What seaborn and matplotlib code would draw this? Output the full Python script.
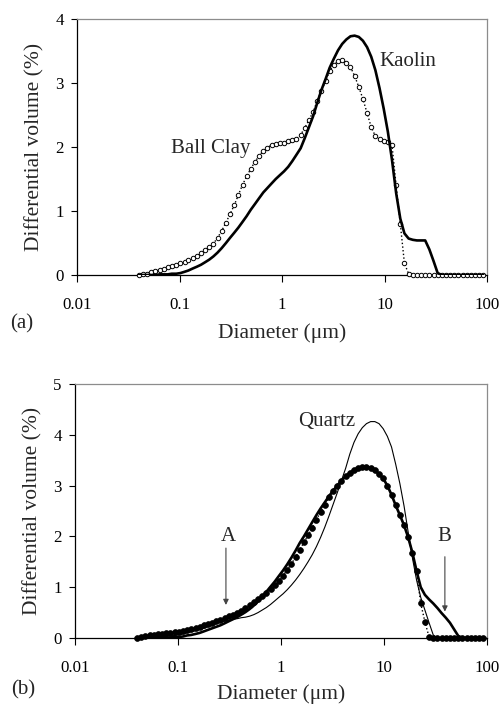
import numpy as np
import pandas as pd
import matplotlib
matplotlib.use("Agg")
import matplotlib.pyplot as plt
import matplotlib.ticker as ticker
import seaborn as sns

# channel diameters (um), log spaced like the analyser bins
diameter_um = [0.040, 0.044, 0.048, 0.053, 0.058, 0.064, 0.070, 0.077, 0.084, 0.093,
               0.102, 0.112, 0.122, 0.134, 0.148, 0.162, 0.178, 0.195, 0.214, 0.235,
               0.258, 0.284, 0.311, 0.342, 0.375, 0.412, 0.452, 0.496, 0.545, 0.598,
               0.657, 0.721, 0.791, 0.869, 0.953, 1.047, 1.149, 1.261, 1.385, 1.520,
               1.669, 1.832, 2.011, 2.208, 2.423, 2.660, 2.920, 3.206, 3.519, 3.863,
               4.241, 4.656, 5.111, 5.611, 6.159, 6.761, 7.422, 8.148, 8.944, 9.819,
               10.78, 11.83, 12.99, 14.26, 15.65, 17.18, 18.86, 20.71, 22.73, 24.95,
               27.39, 30.07, 33.01, 36.24, 39.78, 43.67, 47.94, 52.62, 57.77, 63.41,
               69.61, 76.42, 83.89, 92.09]

# panel (a)
ball_clay = [0.00, 0.01, 0.02, 0.04, 0.06, 0.08, 0.10, 0.12, 0.14, 0.16,
             0.18, 0.20, 0.23, 0.26, 0.30, 0.34, 0.39, 0.44, 0.49, 0.58,
             0.69, 0.82, 0.95, 1.09, 1.25, 1.41, 1.54, 1.66, 1.77, 1.86,
             1.94, 1.99, 2.03, 2.05, 2.06, 2.07, 2.09, 2.11, 2.13, 2.19,
             2.30, 2.42, 2.55, 2.72, 2.88, 3.03, 3.19, 3.28, 3.34, 3.36,
             3.32, 3.25, 3.11, 2.94, 2.75, 2.53, 2.31, 2.17, 2.12, 2.09,
             2.08, 2.03, 1.40, 0.80, 0.18, 0.02, 0.00, 0.00, 0.00, 0.00,
             0.00, 0.00, 0.00, 0.00, 0.00, 0.00, 0.00, 0.00, 0.00, 0.00,
             0.00, 0.00, 0.00, 0.00]

kaolin = [0.00, 0.00, 0.00, 0.00, 0.00, 0.01, 0.01, 0.01, 0.02, 0.02,
          0.03, 0.05, 0.07, 0.10, 0.13, 0.16, 0.20, 0.24, 0.29, 0.35,
          0.42, 0.50, 0.58, 0.66, 0.74, 0.83, 0.92, 1.02, 1.11, 1.20,
          1.29, 1.36, 1.43, 1.50, 1.56, 1.62, 1.69, 1.78, 1.88, 1.98,
          2.14, 2.31, 2.48, 2.69, 2.89, 3.06, 3.24, 3.38, 3.51, 3.61,
          3.68, 3.73, 3.74, 3.72, 3.66, 3.56, 3.41, 3.20, 2.92, 2.60,
          2.24, 1.80, 1.28, 0.88, 0.65, 0.57, 0.55, 0.54, 0.54, 0.54,
          0.40, 0.22, 0.03, 0.00, 0.00, 0.00, 0.00, 0.00, 0.00, 0.00,
          0.00, 0.00, 0.00, 0.00]

# panel (b)
quartz = [0.00, 0.00, 0.00, 0.00, 0.00, 0.01, 0.02, 0.03, 0.04, 0.05,
          0.06, 0.08, 0.10, 0.12, 0.14, 0.17, 0.19, 0.22, 0.25, 0.28,
          0.31, 0.33, 0.35, 0.37, 0.38, 0.40, 0.41, 0.43, 0.46, 0.50,
          0.55, 0.60, 0.66, 0.73, 0.80, 0.87, 0.95, 1.04, 1.14, 1.25,
          1.37, 1.50, 1.64, 1.80, 1.98, 2.18, 2.40, 2.63, 2.86, 3.10,
          3.34, 3.62, 3.85, 4.02, 4.14, 4.22, 4.26, 4.26, 4.22, 4.12,
          3.97, 3.76, 3.42, 3.04, 2.60, 2.08, 1.58, 1.14, 0.80, 0.55,
          0.30, 0.06, 0.00, 0.00, 0.00, 0.00, 0.00, 0.00, 0.00, 0.00,
          0.00, 0.00, 0.00, 0.00]

mix_points = [0.00, 0.02, 0.03, 0.05, 0.06, 0.07, 0.08, 0.09, 0.10, 0.11,
              0.12, 0.14, 0.16, 0.18, 0.20, 0.22, 0.25, 0.28, 0.30, 0.33,
              0.36, 0.40, 0.43, 0.46, 0.50, 0.54, 0.59, 0.64, 0.70, 0.76,
              0.82, 0.89, 0.96, 1.04, 1.13, 1.23, 1.34, 1.46, 1.59, 1.74,
              1.88, 2.02, 2.17, 2.33, 2.48, 2.62, 2.77, 2.90, 3.00, 3.10,
              3.18, 3.25, 3.31, 3.34, 3.36, 3.37, 3.35, 3.30, 3.23, 3.14,
              3.00, 2.82, 2.61, 2.42, 2.22, 1.98, 1.68, 1.31, 0.68, 0.32,
              0.02, 0.00, 0.00, 0.00, 0.00, 0.00, 0.00, 0.00, 0.00, 0.00,
              0.00, 0.00, 0.00, 0.00]

mix_line = [0.00, 0.00, 0.00, 0.00, 0.00, 0.00, 0.00, 0.01, 0.01, 0.02,
            0.02, 0.03, 0.05, 0.06, 0.08, 0.10, 0.13, 0.16, 0.19, 0.22,
            0.25, 0.29, 0.33, 0.37, 0.41, 0.46, 0.51, 0.57, 0.64, 0.72,
            0.81, 0.91, 1.01, 1.11, 1.22, 1.33, 1.45, 1.58, 1.72, 1.87,
            2.00, 2.14, 2.28, 2.42, 2.55, 2.67, 2.79, 2.90, 3.00, 3.10,
            3.18, 3.25, 3.31, 3.34, 3.36, 3.37, 3.35, 3.30, 3.23, 3.14,
            3.00, 2.82, 2.61, 2.42, 2.22, 1.98, 1.68, 1.32, 1.00, 0.85,
            0.76, 0.68, 0.59, 0.49, 0.40, 0.30, 0.17, 0.04, 0.00, 0.00,
            0.00, 0.00, 0.00, 0.00]

x_ticks = [0.01, 0.1, 1, 10, 100]
x_tick_labels = ["0.01", "0.1", "1", "10", "100"]

sns.set_style("ticks")
plt.rcParams['font.family'] = ['Liberation Serif', 'DejaVu Serif']

fig = plt.figure(figsize=(5.04, 7.07), dpi=100)
ax1 = fig.add_axes([77/504, 1-275/707, 410/504, 256/707])
ax2 = fig.add_axes([75/504, 1-638/707, 412/504, 254/707])


def style_axis(ax, ymax, label_y):
    ax.set_xscale('log')
    ax.set_xlim(0.01, 100)
    ax.set_ylim(0, ymax)
    ax.set_xticks(x_ticks)
    ax.set_xticklabels(x_tick_labels)
    ax.xaxis.set_minor_locator(ticker.NullLocator())
    ax.set_yticks(range(ymax + 1))
    ax.tick_params(axis='x', direction='out', length=5, width=0.8, pad=11,
                   labelsize=12.2, colors='black')
    ax.tick_params(axis='y', direction='out', length=4, width=0.8, pad=5.5,
                   labelsize=12.2, colors='black')
    for s in ['top', 'right']:
        ax.spines[s].set_color('#8c8c8c')
        ax.spines[s].set_linewidth(0.9)
    for s in ['left', 'bottom']:
        ax.spines[s].set_color('black')
        ax.spines[s].set_linewidth(0.9)
    ax.set_ylabel("Differential volume (%)", fontsize=15.5)
    ax.set_xlabel("Diameter (\u03bcm)", fontsize=15.5)
    ax.yaxis.set_label_coords(-0.08, 0.5)
    ax.xaxis.set_label_coords(0.5, label_y)


# (a)
sns.lineplot(x=diameter_um, y=ball_clay, ax=ax1, color='black', lw=1.0,
             linestyle=':', marker='o', markersize=3.2, markerfacecolor='white',
             markeredgecolor='black', markeredgewidth=0.7, clip_on=False, zorder=3)
sns.lineplot(x=diameter_um, y=kaolin, ax=ax1, color='black', lw=1.9, zorder=4)
style_axis(ax1, 4, -0.19)
ax1.text(0.2, 1.98, "Ball Clay", fontsize=15, ha='center', va='center')
ax1.text(9.0, 3.34, "Kaolin", fontsize=15, ha='left', va='center')

# (b)
sns.lineplot(x=diameter_um, y=quartz, ax=ax2, color='black', lw=0.8, zorder=2)
sns.lineplot(x=diameter_um, y=mix_points, ax=ax2, color='black', lw=1.0,
             linestyle=':', marker='o', markersize=4.2, markerfacecolor='black',
             markeredgecolor='black', markeredgewidth=0.5, clip_on=False, zorder=3)
sns.lineplot(x=diameter_um, y=mix_line, ax=ax2, color='black', lw=1.9, zorder=4)
style_axis(ax2, 5, -0.182)
ax2.text(2.78, 4.26, "Quartz", fontsize=15, ha='center', va='center')

arrow = dict(arrowstyle='-|>', color='#444444', lw=0.8, mutation_scale=8,
             shrinkA=0, shrinkB=0)
ax2.text(0.31, 1.99, "A", fontsize=15, ha='center', va='center')
ax2.annotate("", xy=(0.292, 0.65), xytext=(0.292, 1.77), arrowprops=arrow)
ax2.text(38.5, 1.99, "B", fontsize=15, ha='center', va='center')
ax2.annotate("", xy=(39, 0.52), xytext=(39, 1.6), arrowprops=arrow)

fig.text(22/504, 1-324/707, "(a)", fontsize=15, ha='center', va='center')
fig.text(23/504, 1-690/707, "(b)", fontsize=15, ha='center', va='center')

fig.savefig("out.png", dpi=100)
